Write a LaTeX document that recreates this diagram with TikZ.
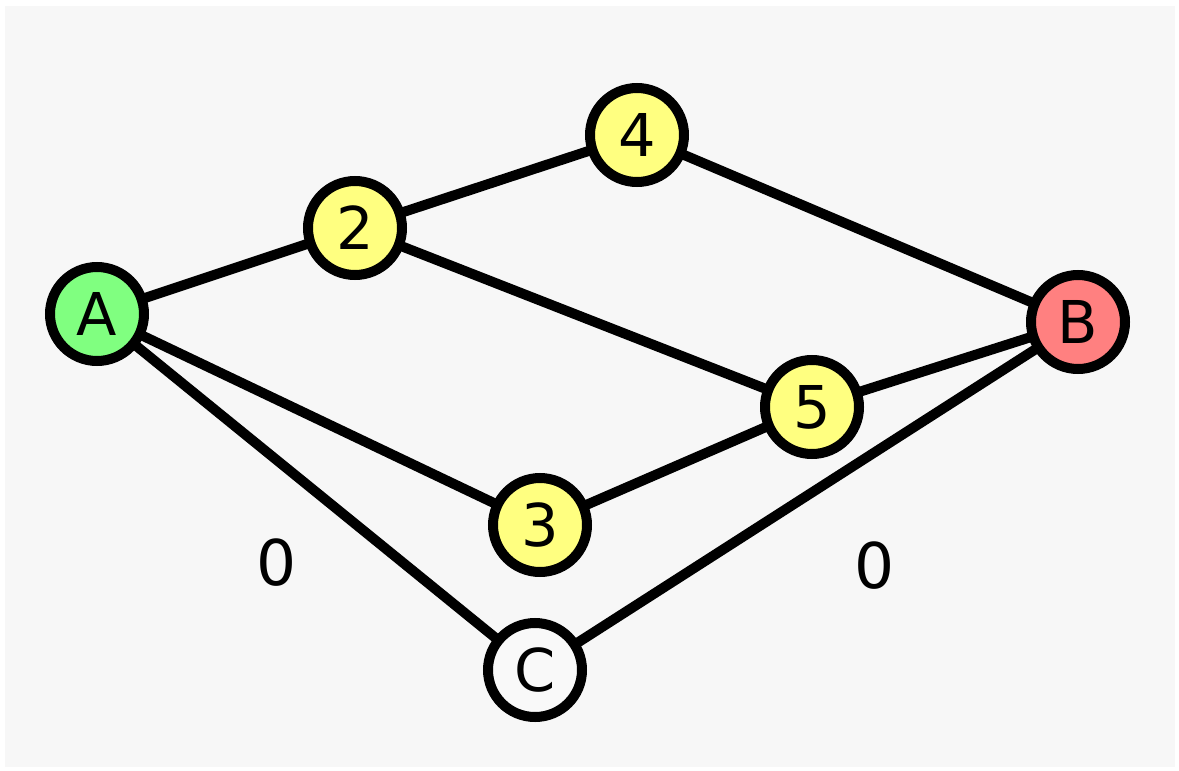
\documentclass[tikz,border=0pt]{standalone}
\usepackage{fontspec}
\setmainfont{DejaVu Sans}
\definecolor{bgpanel}{HTML}{F7F7F7}
\definecolor{startfill}{HTML}{80FF80}
\definecolor{endfill}{HTML}{FF8080}
\definecolor{midfill}{HTML}{FFFF80}
\definecolor{plainfill}{HTML}{F9F9F9}
\tikzset{
  vertex/.style={circle, draw=black, line width=10pt, minimum size=94pt,
    inner sep=0pt, font=\fontsize{59}{59}\selectfont},
  link/.style={draw=black, line width=10pt},
  weight/.style={font=\fontsize{63}{63}\selectfont}
}
\begin{document}
\begin{tikzpicture}[x=1pt, y=-1pt]
  \useasboundingbox (0,0) rectangle (1179,771);
  \fill[white] (0,0) rectangle (1179,771);
  \fill[bgpanel] (5,6) rectangle (1175,767);

  % graph edges
  \coordinate (pA) at (97,314);
  \coordinate (p2) at (355,228);
  \coordinate (p4) at (637,135);
  \coordinate (pB) at (1078,322);
  \coordinate (p5) at (812,407);
  \coordinate (p3) at (540,525);
  \coordinate (pC) at (535,670);

  \draw[link] (pA) -- (p2);
  \draw[link] (p2) -- (p4);
  \draw[link] (p4) -- (pB);
  \draw[link] (p2) -- (p5);
  \draw[link] (p5) -- (pB);
  \draw[link] (pA) -- (p3);
  \draw[link] (p3) -- (p5);
  \draw[link] (pA) -- (pC);
  \draw[link] (pC) -- (pB);

  % vertices
  \node[vertex, fill=startfill] (A) at (pA) {A};
  \node[vertex, fill=midfill] (n2) at (p2) {2};
  \node[vertex, fill=midfill] (n4) at (p4) {4};
  \node[vertex, fill=endfill] (B) at (pB) {B};
  \node[vertex, fill=midfill] (n5) at (p5) {5};
  \node[vertex, fill=midfill] (n3) at (p3) {3};
  \node[vertex, fill=plainfill] (C) at (pC) {C};

  % edge weights
  \node[weight] (wAC) at (277,563) {0};
  \node[weight] (wCB) at (875,566) {0};
\end{tikzpicture}
\end{document}
